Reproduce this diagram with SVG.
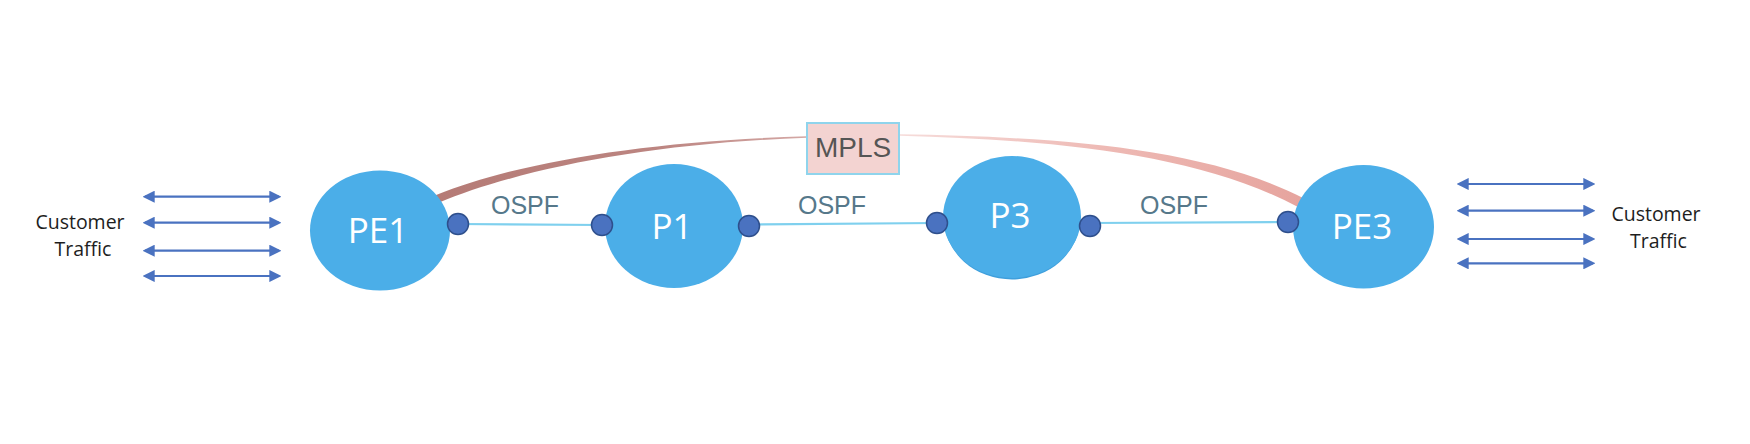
<svg xmlns="http://www.w3.org/2000/svg" width="1750" height="444" viewBox="0 0 1750 444">
  <defs>
    <style>
      .node { fill: #4baee8; }
      .nlabel { font-family: "Open Sans", "Liberation Sans", sans-serif; font-size: 35px; fill: #ffffff; text-anchor: middle; }
      .ospf { font-family: "Liberation Sans", Arial, sans-serif; font-size: 25px; fill: #56788a; text-anchor: middle; }
      .cust { font-family: "Open Sans", "Liberation Sans", sans-serif; font-size: 19.5px; fill: #1e1e1e; text-anchor: middle; }
      .link { stroke: #7fd0ee; stroke-width: 2.2; fill: none; }
      .port { fill: #4a72c0; stroke: #2e4f8c; stroke-width: 1.5; }
      .traffic { stroke: #4a72c0; stroke-width: 2.2; fill: none; marker-start: url(#ah); marker-end: url(#ah); }
    </style>
    <marker id="ah" viewBox="0 0 10 10" refX="8" refY="5" markerWidth="5.5" markerHeight="5.5" orient="auto-start-reverse" markerUnits="strokeWidth">
      <path d="M0,0 L10,5 L0,10 z" fill="#4a72c0"/>
    </marker>
    <linearGradient id="gl" x1="437" y1="0" x2="807" y2="0" gradientUnits="userSpaceOnUse">
      <stop offset="0" stop-color="#b57b76"/>
      <stop offset="0.6" stop-color="#bc8581"/>
      <stop offset="1" stop-color="#d4a8a5"/>
    </linearGradient>
    <linearGradient id="gr" x1="900" y1="0" x2="1302" y2="0" gradientUnits="userSpaceOnUse">
      <stop offset="0" stop-color="#f6dcda"/>
      <stop offset="0.5" stop-color="#eebab5"/>
      <stop offset="1" stop-color="#e6a49e"/>
    </linearGradient>
  </defs>
  <rect width="1750" height="444" fill="#ffffff"/>

  <g id="connectors">
    <!-- MPLS tapered arc -->
    <path d="M435.5,195.3 C519,161.5 649,141 807,136.2 L807,137.8 C651,143 521,168.5 438.5,202.7 Z" fill="url(#gl)"/>
    <path d="M900,134.3 C1051,137 1203,146 1305,199 L1298,207 C1197,153 1049,139.8 900,135.7 Z" fill="url(#gr)"/>
    <!-- OSPF links -->
    <line class="link" x1="458" y1="224" x2="602" y2="225"/>
    <line class="link" x1="749" y1="224.5" x2="937" y2="223"/>
    <line class="link" x1="1090" y1="223" x2="1288" y2="222"/>
    <!-- customer traffic -->
    <line class="traffic" x1="145" y1="196.7" x2="279" y2="196.7"/>
    <line class="traffic" x1="145" y1="222.7" x2="279" y2="222.7"/>
    <line class="traffic" x1="145" y1="250.7" x2="279" y2="250.7"/>
    <line class="traffic" x1="145" y1="276" x2="279" y2="276"/>
    <line class="traffic" x1="1459" y1="184" x2="1593" y2="184"/>
    <line class="traffic" x1="1459" y1="210.7" x2="1593" y2="210.7"/>
    <line class="traffic" x1="1459" y1="239" x2="1593" y2="239"/>
    <line class="traffic" x1="1459" y1="263.3" x2="1593" y2="263.3"/>
    <text class="ospf" x="525" y="214">OSPF</text>
    <text class="ospf" x="832" y="214">OSPF</text>
    <text class="ospf" x="1174" y="214">OSPF</text>
  </g>

  <g id="mpls">
    <rect x="807" y="123" width="92" height="51" fill="#f3d3d1" stroke="#8fd4ec" stroke-width="2"/>
    <text x="853" y="157" font-family="Liberation Sans, Arial, sans-serif" font-size="28" fill="#555555" text-anchor="middle">MPLS</text>
  </g>

  <g id="customer-left">
    <text class="cust" x="80" y="229">Customer</text>
    <text class="cust" x="83" y="256">Traffic</text>
  </g>
  <g id="customer-right">
    <text class="cust" x="1656" y="221">Customer</text>
    <text class="cust" x="1658.5" y="248">Traffic</text>
  </g>

  <g id="PE1">
    <ellipse class="node" cx="380" cy="230.5" rx="70" ry="60"/>
    <text class="nlabel" x="378" y="243">PE1</text>
    <circle class="port" cx="458" cy="224" r="10.5"/>
  </g>
  <g id="P1">
    <ellipse class="node" cx="674" cy="226" rx="69" ry="62"/>
    <text class="nlabel" x="672" y="239">P1</text>
    <circle class="port" cx="602" cy="225" r="10.5"/>
    <circle class="port" cx="749" cy="226" r="10.5"/>
  </g>
  <g id="P3">
    <ellipse cx="1012" cy="218.5" rx="68" ry="61" fill="#3f9fdc"/>
    <ellipse class="node" cx="1012" cy="217" rx="69" ry="61"/>
    <text class="nlabel" x="1010" y="228">P3</text>
    <circle class="port" cx="937" cy="223" r="10.5"/>
    <circle class="port" cx="1090" cy="226" r="10.5"/>
  </g>
  <g id="PE3">
    <ellipse class="node" cx="1363.5" cy="226.7" rx="70.5" ry="61.7"/>
    <text class="nlabel" x="1362" y="239">PE3</text>
    <circle class="port" cx="1288" cy="222" r="10.5"/>
  </g>
</svg>
